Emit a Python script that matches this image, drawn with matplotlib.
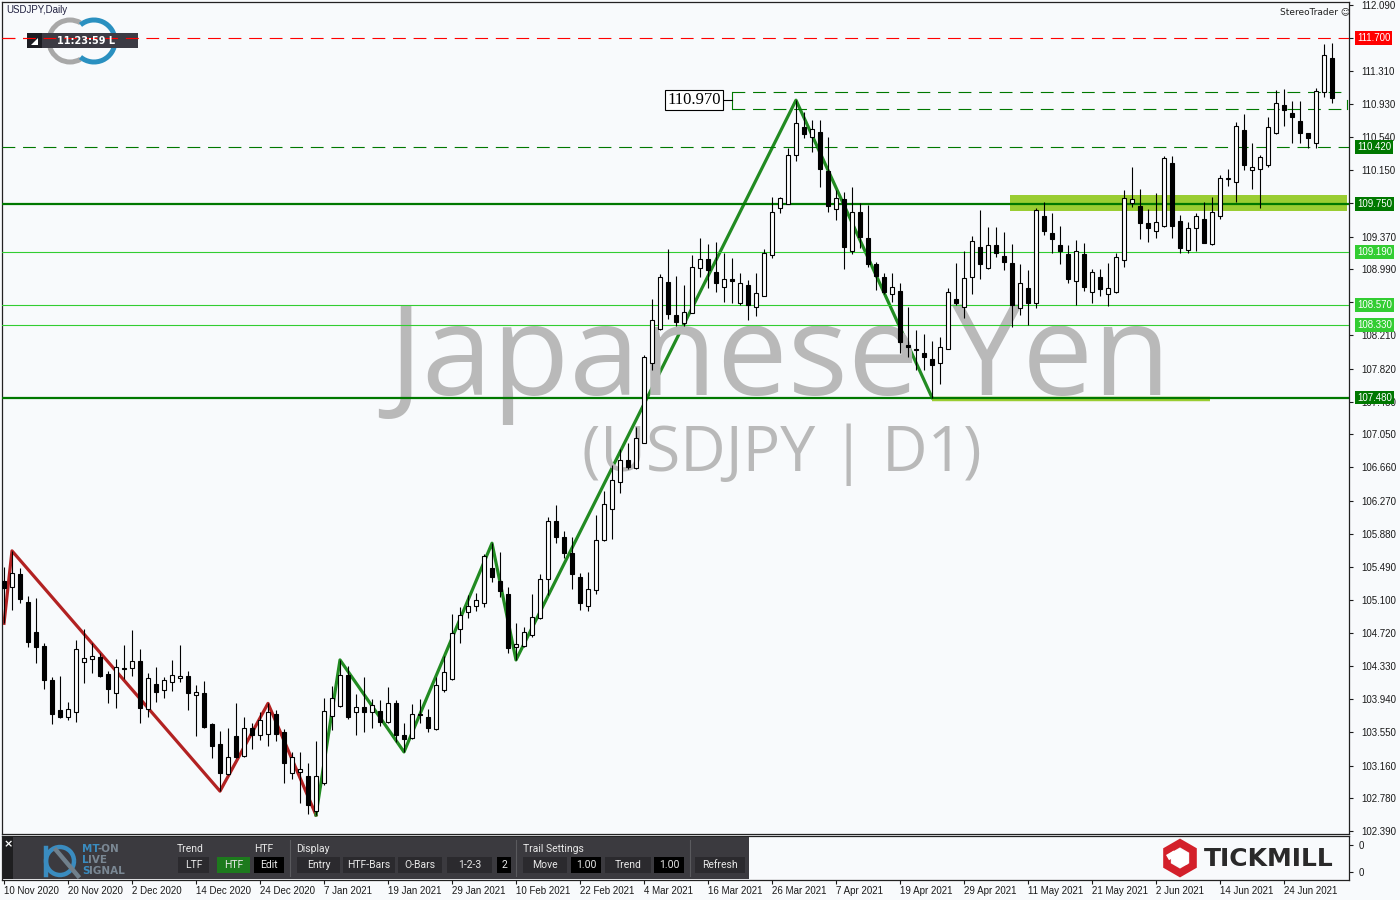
import numpy as np
import pandas as pd
import matplotlib
matplotlib.use("Agg")
import matplotlib.pyplot as plt
from matplotlib.patches import Rectangle, Arc, RegularPolygon, Polygon
from matplotlib.transforms import blended_transform_factory

# ---------------- data (USDJPY daily OHLC) ----------------
opens = [105.33, 105.26, 105.41, 105.08, 104.73, 104.56, 104.17, 103.81, 103.73, 103.79,
         104.38, 104.41, 104.44, 104.24, 104.01, 104.30, 104.30, 104.39, 103.82, 104.12,
         104.05, 104.14, 104.19, 104.21, 103.99, 104.01, 103.65, 103.41, 103.06, 103.51,
         103.27, 103.60, 103.52, 103.53, 103.76, 103.55, 103.07, 103.08, 103.04, 102.63,
         102.96, 103.74, 103.86, 104.22, 103.79, 103.85, 103.79, 103.80, 103.67, 103.90,
         103.52, 103.48, 103.76, 103.73, 103.59, 104.05, 104.18, 104.76, 104.96, 105.03,
         105.07, 105.48, 105.33, 105.17, 104.55, 104.56, 104.69, 104.89, 105.35, 106.03,
         105.84, 105.66, 105.37, 105.03, 105.22, 105.81, 106.17, 106.49, 106.75, 106.65,
         106.95, 107.89, 108.28, 108.84, 108.45, 108.35, 108.47, 109.00, 109.11, 108.95,
         108.78, 108.87, 108.59, 108.80, 108.54, 108.67, 109.15, 109.70, 109.75, 110.33,
         110.66, 110.54, 110.60, 110.14, 109.69, 109.81, 109.20, 109.66, 109.35, 109.05,
         108.89, 108.70, 108.73, 108.10, 108.05, 108.00, 107.93, 107.89, 108.05, 108.64,
         108.54, 108.89, 109.25, 109.00, 109.27, 109.14, 109.06, 108.53, 108.77, 108.59,
         109.61, 109.41, 109.27, 109.16, 108.85, 109.16, 108.72, 108.89, 108.70, 108.72,
         109.09, 109.76, 109.73, 109.53, 109.43, 109.49, 110.23, 109.55, 109.21, 109.47,
         109.58, 109.28, 109.61, 110.04, 110.01, 110.62, 110.15, 110.16, 110.21, 110.58,
         110.91, 110.82, 110.73, 110.58, 110.47, 111.07, 111.47]
highs = [105.49, 105.68, 105.48, 105.15, 105.13, 104.60, 104.20, 104.21, 103.91, 104.63,
         104.76, 104.60, 104.48, 104.27, 104.41, 104.57, 104.75, 104.53, 104.25, 104.32,
         104.20, 104.40, 104.57, 104.27, 104.11, 104.15, 103.66, 103.57, 103.60, 103.89,
         103.73, 103.66, 103.79, 103.89, 103.81, 103.59, 103.32, 103.32, 103.19, 103.45,
         103.95, 104.09, 104.40, 104.33, 104.00, 104.20, 103.94, 103.93, 104.08, 103.93,
         103.66, 103.88, 103.94, 103.82, 104.20, 104.45, 104.94, 105.02, 105.16, 105.18,
         105.64, 105.77, 105.67, 105.26, 104.83, 104.79, 105.17, 105.41, 106.08, 106.22,
         105.91, 105.84, 105.42, 105.43, 106.10, 106.38, 106.69, 106.88, 106.95, 107.13,
         107.98, 108.64, 108.93, 109.22, 108.91, 108.80, 109.15, 109.35, 109.28, 109.31,
         109.18, 109.12, 108.94, 108.86, 108.94, 109.22, 109.83, 109.83, 110.41, 110.97,
         110.83, 110.74, 110.74, 110.54, 109.92, 109.89, 109.95, 109.76, 109.74, 109.07,
         108.94, 108.94, 108.82, 108.54, 108.27, 108.23, 108.14, 108.19, 108.77, 109.06,
         109.20, 109.38, 109.68, 109.48, 109.48, 109.42, 109.28, 109.05, 108.98, 109.70,
         109.78, 109.65, 109.49, 109.27, 109.33, 109.29, 108.99, 108.99, 109.06, 109.18,
         109.92, 110.19, 109.93, 109.69, 109.88, 110.32, 110.32, 109.62, 109.54, 109.65,
         109.78, 109.83, 110.09, 110.16, 110.71, 110.81, 110.47, 110.33, 110.77, 111.09,
         111.10, 110.96, 110.96, 110.58, 111.11, 111.63, 111.64]
lows = [104.83, 104.99, 105.07, 104.55, 104.36, 104.06, 103.65, 103.72, 103.69, 103.67,
        104.13, 104.25, 104.20, 103.89, 103.84, 104.18, 104.21, 103.66, 103.73, 103.91,
        103.95, 104.03, 104.14, 103.81, 103.51, 103.60, 103.25, 102.86, 103.05, 103.25,
        103.26, 103.35, 103.46, 103.39, 103.45, 102.96, 103.00, 102.72, 102.59, 102.58,
        102.93, 103.58, 103.85, 103.71, 103.52, 103.55, 103.60, 103.62, 103.66, 103.44,
        103.32, 103.47, 103.66, 103.55, 103.58, 104.02, 104.16, 104.60, 104.89, 104.98,
        105.02, 105.31, 105.14, 104.48, 104.40, 104.55, 104.67, 104.88, 105.16, 105.77,
        105.60, 105.23, 104.99, 104.98, 105.17, 105.80, 105.82, 106.36, 106.64, 106.64,
        106.95, 107.80, 108.27, 108.40, 108.32, 108.32, 108.47, 108.89, 108.77, 108.72,
        108.60, 108.59, 108.57, 108.39, 108.44, 108.67, 109.12, 109.65, 109.75, 110.26,
        110.53, 110.36, 109.95, 109.66, 109.56, 108.99, 109.16, 109.24, 109.01, 108.74,
        108.70, 108.60, 108.00, 107.96, 107.80, 107.80, 107.48, 107.64, 108.05, 108.57,
        108.41, 108.70, 108.87, 108.99, 109.13, 108.98, 108.31, 108.45, 108.33, 108.53,
        109.39, 109.18, 109.05, 108.82, 108.57, 108.73, 108.59, 108.67, 108.55, 108.71,
        109.01, 109.72, 109.34, 109.31, 109.35, 109.48, 109.35, 109.18, 109.18, 109.20,
        109.29, 109.27, 109.58, 109.96, 109.78, 110.15, 109.93, 109.70, 110.19, 110.57,
        110.67, 110.47, 110.47, 110.41, 110.41, 111.01, 110.94]
closes = [105.25, 105.42, 105.12, 104.61, 104.55, 104.17, 103.77, 103.73, 103.82, 104.53,
          104.42, 104.45, 104.21, 104.06, 104.32, 104.29, 104.39, 103.84, 104.19, 104.02,
          104.16, 104.22, 104.21, 104.01, 104.02, 103.61, 103.39, 103.07, 103.26, 103.26,
          103.60, 103.52, 103.69, 103.79, 103.53, 103.19, 103.26, 103.12, 102.70, 103.04,
          103.80, 103.95, 104.22, 103.73, 103.85, 103.79, 103.87, 103.67, 103.90, 103.52,
          103.47, 103.76, 103.75, 103.60, 104.11, 104.26, 104.72, 104.93, 105.03, 105.10,
          105.62, 105.37, 105.21, 104.54, 104.59, 104.73, 104.90, 105.35, 106.03, 105.84,
          105.66, 105.41, 105.07, 105.23, 105.81, 106.23, 106.51, 106.75, 106.67, 107.01,
          107.96, 108.39, 108.89, 108.46, 108.37, 108.48, 109.01, 109.11, 108.98, 108.82,
          108.87, 108.85, 108.82, 108.57, 108.71, 109.18, 109.66, 109.82, 110.33, 110.70,
          110.57, 110.63, 110.16, 109.73, 109.82, 109.25, 109.66, 109.36, 109.05, 108.91,
          108.72, 108.78, 108.13, 108.07, 108.04, 107.96, 107.86, 108.07, 108.72, 108.59,
          108.88, 109.32, 109.05, 109.27, 109.18, 109.07, 108.57, 108.82, 108.59, 109.68,
          109.43, 109.34, 109.20, 108.87, 109.20, 108.78, 108.95, 108.75, 108.77, 109.13,
          109.82, 109.81, 109.53, 109.47, 109.54, 110.29, 109.49, 109.24, 109.47, 109.61,
          109.29, 109.66, 110.06, 110.05, 110.67, 110.21, 110.19, 110.30, 110.66, 110.94,
          110.86, 110.77, 110.58, 110.53, 111.08, 111.50, 111.00]

# zigzag pivots (bar number, H/L)
zz_red_bars = [0, 1, 27, 33, 39]
zz_red_kind = ["L", "H", "L", "H", "L"]
zz_green_bars = [39, 42, 50, 61, 64, 99, 116]
zz_green_kind = ["L", "H", "L", "H", "L", "H", "L"]

# horizontal levels
level_values = [111.700, 110.420, 109.750, 109.190, 108.570, 108.330, 107.480]
level_labels = ["111.700", "110.420", "109.750", "109.190", "108.570", "108.330", "107.480"]
level_colors = ["#ff0000", "#007800", "#007800", "#32cd32", "#32cd32", "#32cd32", "#007800"]

box_level = 110.970
box_label = "110.970"
zone_low, zone_high = 109.67, 109.86

price_ticks = [112.090, 111.700, 111.310, 110.930, 110.540, 110.150, 109.760, 109.370,
               108.990, 108.600, 108.210, 107.820, 107.430, 107.050, 106.660, 106.270,
               105.880, 105.490, 105.100, 104.720, 104.330, 103.940, 103.550, 103.160,
               102.780, 102.390]
hidden_ticks = [111.700, 109.760, 108.600]   # covered by level labels in the chart
date_ticks = ["2020-11-10", "2020-11-20", "2020-12-02", "2020-12-14", "2020-12-24",
              "2021-01-07", "2021-01-19", "2021-01-29", "2021-02-10", "2021-02-22",
              "2021-03-04", "2021-03-16", "2021-03-26", "2021-04-07", "2021-04-19",
              "2021-04-29", "2021-05-11", "2021-05-21", "2021-06-02", "2021-06-14",
              "2021-06-24"]
holidays = ["2020-12-25", "2021-01-01"]

# ---------------- figure ----------------
BG = "#f8fafc"
W, H = 1400, 900
AXFONT = "Liberation Sans"
fig = plt.figure(figsize=(14, 9), dpi=100, facecolor=BG)

def fa(x0, y0, x1, y1):
    return [x0 / W, 1 - y1 / H, (x1 - x0) / W, (y1 - y0) / H]

ax = fig.add_axes(fa(2, 2, 1349, 834))
ax.set_facecolor(BG)

o = np.array(opens); h = np.array(highs); l = np.array(lows); c = np.array(closes)
n = len(o)
xs = np.arange(n)
dates = pd.bdate_range("2020-11-10", periods=n, freq="C", holidays=holidays)

ax.set_xlim(-0.25, 168.125)
ax.set_ylim(102.357, 112.1225)

# zone
ax.add_patch(Rectangle((125.75, zone_low), 167.9 - 125.75, zone_high - zone_low,
                       facecolor="#9acd32", edgecolor="none", zorder=1.5))
# support line under low
ax.plot([116, 150.75], [lows[116] - 0.02, lows[116] - 0.02], color="#9acd32", lw=3.2,
        solid_capstyle="butt", zorder=1.6)

# zigzags
def zz(bars, kinds):
    return [highs[b] if k == "H" else lows[b] for b, k in zip(bars, kinds)]
ax.plot(zz_red_bars, zz(zz_red_bars, zz_red_kind), color="#b22222", lw=2.3, zorder=2)
ax.plot(zz_green_bars, zz(zz_green_bars, zz_green_kind), color="#228b22", lw=2.3, zorder=2)

# watermark
ax.text(0.577, 0.5276, "Japanese Yen", transform=ax.transAxes, fontsize=91,
        family="Open Sans", color="#b9b9b9", ha="center", va="baseline", zorder=2.5)
ax.text(0.579, 0.436, "(USDJPY | D1)", transform=ax.transAxes, fontsize=45,
        family="Open Sans", color="#b9b9b9", ha="center", va="baseline", zorder=2.5)

# horizontal levels
dash = (0, (11.5, 7))
styles = [dict(ls=dash, lw=0.8), dict(ls=dash, lw=0.8), dict(ls="-", lw=1.6),
          dict(ls="-", lw=0.8), dict(ls="-", lw=0.8), dict(ls="-", lw=0.8),
          dict(ls="-", lw=1.6)]
for v, col, st in zip(level_values, level_colors, styles):
    ax.axhline(v, color=col, zorder=3, **st)

# 110.970 box
bx0, bx1 = 91, 167.9
half = 0.1
ax.plot([bx0, bx1], [box_level + half] * 2, color="#007800", lw=0.8, ls=dash, zorder=3)
ax.plot([bx0, bx1], [box_level - half] * 2, color="#007800", lw=0.8, ls=dash, zorder=3)
ax.plot([bx0, bx0], [box_level - half, box_level + half], color="#007800", lw=0.8, zorder=3)
ax.plot([bx1, bx1], [box_level - half, box_level], color="#007800", lw=0.8, zorder=3)
ax.plot([89.6, bx0], [box_level, box_level], color="black", lw=0.8, zorder=3)
ax.text(89.6, box_level, box_label, ha="right", va="center", fontsize=12,
        family="Liberation Serif", color="black", zorder=6,
        bbox=dict(boxstyle="square,pad=0.12", fc="white", ec="black", lw=0.8))

# candles
ax.vlines(xs, l, h, color="black", lw=0.8, zorder=4)
bottoms = np.minimum(o, c)
heights = np.maximum(np.abs(c - o), 0.012)
ax.bar(xs, heights, bottom=bottoms, width=0.58,
       color=np.where(c >= o, "white", "black"), edgecolor="black", linewidth=0.8, zorder=5)

# axes styling
for s in ax.spines.values():
    s.set_color("#222222"); s.set_linewidth(0.9)
ax.set_xticks([])
ax.yaxis.tick_right()
ax.set_yticks(price_ticks)
ax.set_yticklabels(["" if p in hidden_ticks else f"{p:.3f}" for p in price_ticks],
                   family=AXFONT)
ax.tick_params(axis="y", length=3, width=0.8, pad=6, labelsize=7, colors="#1a1a1a")

tr = blended_transform_factory(ax.transAxes, ax.transData)
for v, lab, col in zip(level_values, level_labels, level_colors):
    ax.text(1.0060, v, lab, transform=tr, ha="left", va="center", fontsize=7,
            family=AXFONT, color="white", zorder=7, clip_on=False,
            bbox=dict(boxstyle="square,pad=0.2", fc=col, ec="none"))

# ---------------- sub window ----------------
sub = fig.add_axes(fa(2, 836, 1349, 880))
sub.set_facecolor(BG)
sub.set_xlim(ax.get_xlim())
sub.set_ylim(0, 1)
for s in sub.spines.values():
    s.set_color("#222222"); s.set_linewidth(0.9)
sub.yaxis.tick_right()
sub.set_yticks([0.795, 0.18])
sub.set_yticklabels(["0", "0"], family=AXFONT)
sub.tick_params(axis="y", length=3, width=0.8, pad=4, labelsize=7, colors="#1a1a1a")
tick_pos = [int(np.where(dates == pd.Timestamp(d))[0][0]) for d in date_ticks]
sub.set_xticks(tick_pos)
sub.set_xticklabels([f"{pd.Timestamp(d).day} {pd.Timestamp(d).strftime('%b %Y')}" for d in date_ticks],
                    family=AXFONT)
sub.tick_params(axis="x", length=3, width=0.8, pad=1.5, labelsize=7, colors="#1a1a1a")
for t in sub.get_xticklabels():
    t.set_ha("left")

# ---------------- overlay decorations (pixel coordinates) ----------------
ov = fig.add_axes([0, 0, 1, 1], zorder=10)
ov.set_xlim(0, W); ov.set_ylim(H, 0); ov.axis("off"); ov.patch.set_alpha(0)

ov.text(6, 10, "USDJPY,Daily", fontsize=7, color="#202040", va="center", ha="left", family=AXFONT)
ov.text(1350, 12, "StereoTrader \u263a", fontsize=6.5, color="#202020", va="center", ha="right")

# logo rings
ov.add_patch(Arc((70, 41), 42, 42, theta1=60, theta2=300, color="#a8a8a8", lw=3.6))
ov.add_patch(Arc((94, 41), 42, 42, theta1=-130, theta2=130, color="#2a90c0", lw=3.6))
# clock box
ov.add_patch(Rectangle((27, 33), 111, 15, fc="#3c3b44", ec="none"))
ov.add_patch(Rectangle((27, 33), 15, 15, fc="#1c1c22", ec="none"))
ov.add_patch(Polygon([[31, 45], [38, 45], [38, 38]], closed=True, fc="white", ec="none"))
ov.text(57, 40.8, "11:23:59 L", color="white", fontsize=7, fontweight="bold", va="center")
ov.plot([2, 138], [38, 38], color="#ff0000", lw=0.8, ls=dash)

# control panel
ov.add_patch(Rectangle((3, 837), 746, 42, fc="#3b3a3f", ec="none"))
ov.add_patch(Rectangle((3, 837), 10, 42, fc="#1e1e20", ec="none"))
ov.text(8, 844, "\u00d7", color="white", fontsize=8, fontweight="bold", ha="center", va="center")
# MT-ON logo
ov.add_patch(Arc((60, 861), 28, 28, theta1=0, theta2=360, color="#3a8cc0", lw=3.2))
ov.plot([46, 46], [848, 875], color="#3a8cc0", lw=3.2)
ov.plot([56, 78], [850, 876], color="#70808c", lw=3.2)
pf = dict(fontsize=7.5, fontweight="bold", va="center", family="DejaVu Sans")
ov.text(82, 849, "MT", color="#3a8cc0", **pf)
ov.text(97, 849, "-ON", color="#7a8793", **pf)
ov.text(82, 860, "L", color="#3a8cc0", **pf)
ov.text(88, 860, "IVE", color="#7a8793", **pf)
ov.text(82, 871, "S", color="#3a8cc0", **pf)
ov.text(89, 871, "IGNAL", color="#7a8793", **pf)

tf = dict(fontsize=7.5, color="#e8e8e8", va="center", family="Roboto")
for lab, x0 in [("Trend", 177), ("HTF", 254), ("Display", 296), ("Trail Settings", 523)]:
    ov.text(x0, 849, lab, ha="left", **tf)
for xsep in [290, 516, 690]:
    ov.plot([xsep, xsep], [840, 876], color="#5a5a5e", lw=0.8)
buttons = [("LTF", 178, 209, "#2b2a2e"), ("HTF", 217, 250, "#1d7a1d"), ("Edit", 254, 284, "#000000"),
           ("Entry", 297, 340, "#2b2a2e"), ("HTF-Bars", 343, 395, "#2b2a2e"),
           ("O-Bars", 398, 442, "#2b2a2e"), ("1-2-3", 447, 492, "#2b2a2e"), ("2", 497, 511, "#000000"),
           ("Move", 523, 567, "#2b2a2e"), ("1.00", 571, 601, "#000000"),
           ("Trend", 605, 651, "#2b2a2e"), ("1.00", 654, 684, "#000000"),
           ("Refresh", 695, 745, "#2b2a2e")]
for lab, x0, x1, col in buttons:
    ov.add_patch(Rectangle((x0, 857), x1 - x0, 16, fc=col, ec="none"))
    ov.text((x0 + x1) / 2, 865.5, lab, ha="center", **tf)

# TICKMILL logo
ov.add_patch(RegularPolygon((1180, 858), numVertices=6, radius=15, orientation=0,
                            fill=False, ec="#d3202a", lw=5.5))
ov.add_patch(Polygon([[1172, 852], [1180, 849], [1188, 853], [1188, 864], [1180, 867], [1172, 863]],
                     closed=True, fc="white", ec="none"))
ov.add_patch(Rectangle((1166, 855), 9, 6, fc="white", ec="none", angle=-30))
ov.text(1204, 859, "TICKMILL", fontsize=18, fontweight="bold", color="#2a2a2a",
        va="center", ha="left", family="DejaVu Sans")

fig.savefig("out.png", dpi=100, facecolor=BG)
